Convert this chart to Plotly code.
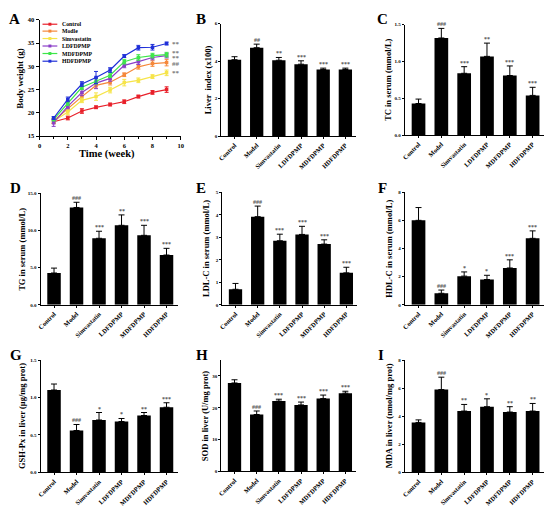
import plotly.graph_objects as go

W, H = 550, 509
FONT = "Liberation Serif"

# ---------------- DATA ----------------
weeks = [1, 2, 3, 4, 5, 6, 7, 8, 9]
groups_a = ["Control", "Modle", "Simvastatin", "LDFDPMP", "MDFDPMP", "HDFDPMP"]
colors_a = ["#e8202a", "#f5883a", "#f6e44a", "#8b3fc8", "#3ee64a", "#2030d8"]
bw_control = [18.1, 18.9, 20.4, 21.2, 21.8, 22.4, 23.5, 24.4, 25.0]
bw_modle = [18.3, 21.0, 23.5, 25.9, 26.6, 28.2, 29.9, 30.6, 30.8]
bw_simva = [18.2, 20.2, 22.7, 23.5, 24.9, 26.5, 27.0, 27.8, 28.6]
bw_ld = [17.9, 21.4, 24.4, 26.4, 27.4, 30.2, 31.0, 31.9, 32.3]
bw_md = [18.6, 22.1, 25.5, 26.8, 28.1, 31.0, 31.9, 32.3, 32.5]
bw_hd = [18.9, 22.9, 26.2, 27.6, 29.2, 32.2, 34.0, 34.1, 34.9]
bw_err_control = [0.4, 0.4, 0.5, 0.3, 0.3, 0.4, 0.3, 0.4, 0.6]
bw_err_modle = [0.5, 0.6, 0.7, 0.6, 0.6, 0.4, 0.5, 0.6, 0.7]
bw_err_simva = [0.5, 0.6, 0.5, 0.8, 0.6, 0.7, 0.5, 0.4, 0.6]
bw_err_ld = [0.8, 0.5, 0.7, 1.2, 0.6, 0.5, 0.6, 0.5, 0.5]
bw_err_md = [0.3, 0.5, 0.5, 0.6, 0.5, 0.5, 0.6, 0.5, 0.5]
bw_err_hd = [0.3, 0.5, 0.5, 1.3, 0.5, 0.3, 0.5, 0.6, 0.3]
bw_sig = ["**", "**", "**", "##", "**"]
bw_sig_y = [34.9, 32.9, 31.8, 30.5, 28.6]

groups = ["Control", "Model", "Simvastatin", "LDFDPMP", "MDFDPMP", "HDFDPMP"]

liver_index = [4.08, 4.72, 4.05, 3.84, 3.56, 3.56]
liver_index_err = [0.16, 0.19, 0.15, 0.18, 0.07, 0.07]
liver_index_sig = ["", "##", "**", "***", "***", "***"]

tc = [0.43, 1.32, 0.84, 1.07, 0.81, 0.54]
tc_err = [0.06, 0.13, 0.09, 0.18, 0.13, 0.11]
tc_sig = ["", "###", "***", "**", "***", "***"]

tg = [4.28, 13.1, 8.95, 10.7, 9.35, 6.7]
tg_err = [0.66, 0.7, 0.95, 1.4, 1.35, 0.9]
tg_sig = ["", "###", "***", "**", "***", "***"]

ldl = [0.69, 3.92, 2.85, 3.13, 2.70, 1.42]
ldl_err = [0.26, 0.47, 0.29, 0.36, 0.19, 0.25]
ldl_sig = ["", "###", "***", "***", "***", "***"]

hdl = [6.01, 0.82, 2.04, 1.80, 2.62, 4.73]
hdl_err = [0.91, 0.23, 0.30, 0.30, 0.58, 0.53]
hdl_sig = ["", "###", "*", "*", "***", "***"]

gsh = [1.10, 0.56, 0.70, 0.68, 0.76, 0.87]
gsh_err = [0.08, 0.08, 0.10, 0.04, 0.04, 0.06]
gsh_sig = ["", "###", "*", "*", "**", "***"]

sod = [27.8, 17.9, 22.1, 20.9, 22.9, 24.6]
sod_err = [1.0, 1.1, 0.6, 0.9, 1.1, 0.6]
sod_sig = ["", "###", "***", "***", "***", "***"]

mda = [3.56, 5.90, 4.37, 4.68, 4.30, 4.37]
mda_err = [0.18, 0.88, 0.47, 0.56, 0.38, 0.54]
mda_sig = ["", "###", "**", "*", "**", "**"]

# ---------------- LAYOUT HELPERS ----------------
def px_x(p):
    return p / W

def px_y(p):
    return 1 - p / H

fig = go.Figure()
annotations = []
shapes = []

bold = dict(family=FONT, color="black", weight="bold")

def axis_common():
    return dict(showline=True, linecolor="black", linewidth=1, showgrid=False,
                zeroline=False, ticks="outside", tickcolor="black", mirror=False)

# ---------------- PANEL A ----------------
series = [bw_control, bw_modle, bw_simva, bw_ld, bw_md, bw_hd]
errs = [bw_err_control, bw_err_modle, bw_err_simva, bw_err_ld, bw_err_md, bw_err_hd]
for name, col, ys, es in zip(groups_a, colors_a, series, errs):
    fig.add_trace(go.Scatter(
        x=weeks, y=ys, name=name, mode="lines+markers",
        line=dict(color=col, width=1.2),
        marker=dict(symbol="square", size=3.5, color=col),
        error_y=dict(type="data", array=es, color=col, thickness=1, width=2),
        xaxis="x", yaxis="y", showlegend=False))

ax = axis_common()
fig.update_layout(
    xaxis=dict(**ax, domain=[px_x(36), px_x(179)], range=[0, 10], dtick=2, ticklen=3,
               minor=dict(dtick=1, ticks="outside", ticklen=2, tickcolor="black"),
               tickfont=dict(**bold, size=6.5), anchor="y"),
    yaxis=dict(**ax, domain=[px_y(134), px_y(16)], range=[15, 40], dtick=5, ticklen=3,
               tickfont=dict(**bold, size=6.5), anchor="x"),
)
annotations.append(dict(text="Time (week)", x=px_x(104), y=px_y(152), xref="paper", yref="paper",
                        showarrow=False, font=dict(**bold, size=10.5), xanchor="center", yanchor="middle"))
annotations.append(dict(text="Body weight (g)", x=px_x(16), y=px_y(75), xref="paper", yref="paper",
                        showarrow=False, textangle=-90, font=dict(**bold, size=9),
                        xanchor="center", yanchor="middle"))
for txt, yv in zip(bw_sig, bw_sig_y):
    annotations.append(dict(text=txt, x=9.25, y=yv, xref="x", yref="y", showarrow=False,
                            xanchor="left", yanchor="middle",
                            font=dict(family=FONT, color="#777777", size=7, weight="bold")))
# manual compact legend
leg_rows = [20.5, 27.5, 35.0, 42.6, 50.2, 58.0]
for name, col, ry in zip(groups_a, colors_a, leg_rows):
    shapes.append(dict(type="line", xref="paper", yref="paper", x0=px_x(39), x1=px_x(54),
                       y0=px_y(ry), y1=px_y(ry), line=dict(color=col, width=1.2)))
    shapes.append(dict(type="rect", xref="paper", yref="paper", x0=px_x(45), x1=px_x(48),
                       y0=px_y(ry + 1.5), y1=px_y(ry - 1.5), fillcolor=col, line=dict(width=0)))
    annotations.append(dict(text=name, x=px_x(57), y=px_y(ry), xref="paper", yref="paper",
                            showarrow=False, xanchor="left", yanchor="middle",
                            font=dict(**bold, size=5.8)))

# ---------------- BAR PANELS ----------------
panels = [
    (2, liver_index, liver_index_err, liver_index_sig, "Liver  index (x100)", 220, 357, 20, 134, 6, [0, 2, 4, 6], "d", 207),
    (3, tc, tc_err, tc_sig, "TC in serum (mmol/L)", 406, 547, 21, 133, 1.5, [0, 0.5, 1.0, 1.5], ".1f", 389),
    (4, tg, tg_err, tg_sig, "TG in serum (mmol/L)", 37, 176, 192, 305, 15, [0, 5, 10, 15], ".1f", 18),
    (5, ldl, ldl_err, ldl_sig, "LDL-C in serum (mmol/L)", 221, 358, 191, 305, 5, [0, 1, 2, 3, 4, 5], "d", 204),
    (6, hdl, hdl_err, hdl_sig, "HDL-C in serum (mmol/L)", 406, 547, 191, 305, 8, [0, 2, 4, 6, 8], "d", 390),
    (7, gsh, gsh_err, gsh_sig, "GSH-Px in liver (μg/mg prot)", 37, 176, 361, 475, 1.5, [0, 0.5, 1.0, 1.5], ".1f", 18),
    (8, sod, sod_err, sod_sig, "SOD in liver (U/mg prot)", 220, 357, 361, 474, 35, [0, 10, 20, 30], "d", 203),
    (9, mda, mda_err, mda_sig, "MDA in liver (nmol/mg prot)", 406, 547, 361, 475, 8, [0, 2, 4, 6, 8], "d", 390),
]

for idx, vals, es, sig, title, x0, x1, yt, yb, ymax, tv, fmt, tx in panels:
    xa, ya = f"x{idx}", f"y{idx}"
    fig.add_trace(go.Bar(
        x=groups, y=vals, width=0.6, marker=dict(color="black", line=dict(width=0)),
        error_y=dict(type="data", array=es, arrayminus=[0] * len(es), symmetric=False,
                     color="black", thickness=1, width=3),
        xaxis=xa, yaxis=ya, showlegend=False))
    ax = axis_common()
    fig.layout[f"xaxis{idx}"] = dict(**ax, domain=[px_x(x0), px_x(x1)], type="category",
                                     range=[-0.6, 5.5], ticklen=2, tickangle=-45,
                                     tickfont=dict(**bold, size=6.5), anchor=ya)
    fig.layout[f"yaxis{idx}"] = dict(**ax, domain=[px_y(yb), px_y(yt)], range=[0, ymax],
                                     tickvals=tv, tickformat=fmt, ticklen=2,
                                     tickfont=dict(**bold, size=5), anchor=xa)
    annotations.append(dict(text=title, x=px_x(tx), y=px_y((yt + yb) / 2), xref="paper", yref="paper",
                            showarrow=False, textangle=-90, font=dict(**bold, size=8.5),
                            xanchor="center", yanchor="middle"))
    for g, v, e, s in zip(groups, vals, es, sig):
        if s:
            annotations.append(dict(text=s, x=g, y=v + e, xref=xa, yref=ya, showarrow=False,
                                    xanchor="center", yanchor="bottom", yshift=-1,
                                    font=dict(family=FONT, color="#555555", size=6, weight="bold")))

# panel letters
letters = [("A", 3, 5), ("B", 192, 5), ("C", 376, 5), ("D", 4, 176), ("E", 192, 176),
           ("F", 377, 176), ("G", 4, 346), ("H", 192, 346), ("I", 377, 346)]
for t, lx, ly in letters:
    annotations.append(dict(text=t, x=px_x(lx), y=px_y(ly), xref="paper", yref="paper",
                            showarrow=False, xanchor="left", yanchor="top",
                            font=dict(**bold, size=15)))

fig.update_layout(width=W, height=H, margin=dict(l=0, r=0, t=0, b=0),
                  paper_bgcolor="white", plot_bgcolor="white",
                  annotations=annotations, shapes=shapes, bargap=0.4, showlegend=False)

fig.write_html("out.html", config={"displayModeBar": False},
               post_script="document.body.style.margin='0';document.body.style.padding='0';"
                           "document.documentElement.style.overflow='hidden';")
